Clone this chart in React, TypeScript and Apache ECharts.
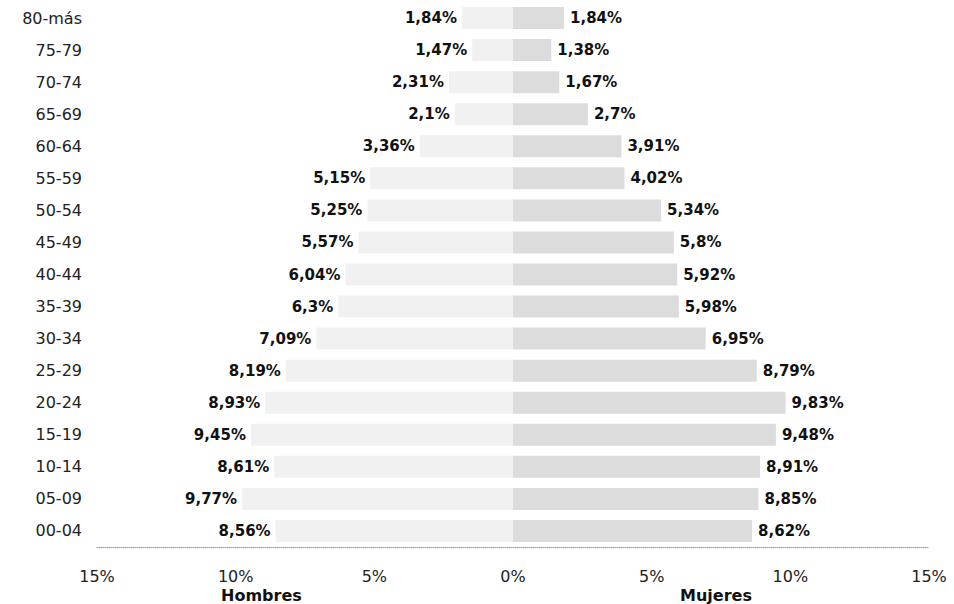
import React, { useEffect, useRef } from "react";
import * as echarts from "echarts";

const categories = [
  "80-más", "75-79", "70-74", "65-69", "60-64", "55-59", "50-54", "45-49", "40-44",
  "35-39", "30-34", "25-29", "20-24", "15-19", "10-14", "05-09", "00-04",
];
const hombres = [1.84, 1.47, 2.31, 2.1, 3.36, 5.15, 5.25, 5.57, 6.04, 6.3, 7.09, 8.19, 8.93, 9.45, 8.61, 9.77, 8.56];
const mujeres = [1.84, 1.38, 1.67, 2.7, 3.91, 4.02, 5.34, 5.8, 5.92, 5.98, 6.95, 8.79, 9.83, 9.48, 8.91, 8.85, 8.62];
const xTicks = [-15, -10, -5, 0, 5, 10, 15];

const FONT = "DejaVu Sans";
const fmt = (v: number) => String(Math.abs(v)).replace(".", ",") + "%";

export default function App() {
  const ref = useRef<HTMLDivElement>(null);
  useEffect(() => {
    if (!ref.current) return;
    const chart = echarts.init(ref.current, null, { renderer: "svg" });
    chart.setOption({
      animation: false,
      backgroundColor: "#ffffff",
      grid: { left: 97, right: 25, top: 2, bottom: 57 },
      xAxis: {
        type: "value",
        min: xTicks[0],
        max: xTicks[xTicks.length - 1],
        interval: 5,
        axisLine: { show: true, lineStyle: { color: "#9a9a9a", type: "dotted", width: 1 } },
        axisTick: { show: false },
        splitLine: { show: false },
        axisLabel: {
          margin: 20,
          fontFamily: FONT,
          fontSize: 16,
          lineHeight: 18,
          color: "#222",
          formatter: (v: number) => Math.abs(v) + "%",
        },
      },
      yAxis: {
        type: "category",
        data: categories,
        inverse: true,
        axisLine: { show: false },
        axisTick: { show: false },
        axisLabel: { margin: 15, fontFamily: FONT, fontSize: 16, color: "#222" },
      },
      series: [
        {
          name: "Hombres",
          type: "bar",
          data: hombres.map((v) => -v),
          barWidth: 22,
          barGap: "-100%",
          itemStyle: { color: "#f1f1f1" },
          label: {
            show: true,
            position: "left",
            distance: 5,
            fontFamily: FONT,
            fontSize: 15,
            fontWeight: "bold",
            color: "#111",
            formatter: (p: any) => fmt(p.value),
          },
        },
        {
          name: "Mujeres",
          type: "bar",
          data: mujeres,
          barWidth: 22,
          itemStyle: { color: "#dcdcdc" },
          label: {
            show: true,
            position: "right",
            distance: 6,
            fontFamily: FONT,
            fontSize: 15,
            fontWeight: "bold",
            color: "#111",
            formatter: (p: any) => fmt(p.value),
          },
        },
      ],
      graphic: [
        {
          type: "text",
          left: 221,
          top: 587,
          style: { text: "Hombres", fontFamily: FONT, fontSize: 16, fontWeight: "bold", fill: "#111" },
        },
        {
          type: "text",
          left: 680,
          top: 587,
          style: { text: "Mujeres", fontFamily: FONT, fontSize: 16, fontWeight: "bold", fill: "#111" },
        },
      ],
    });
    return () => chart.dispose();
  }, []);
  return (
    <div
      ref={ref}
      style={{ position: "fixed", left: 0, top: 0, width: 954, height: 604 }}
    />
  );
}
